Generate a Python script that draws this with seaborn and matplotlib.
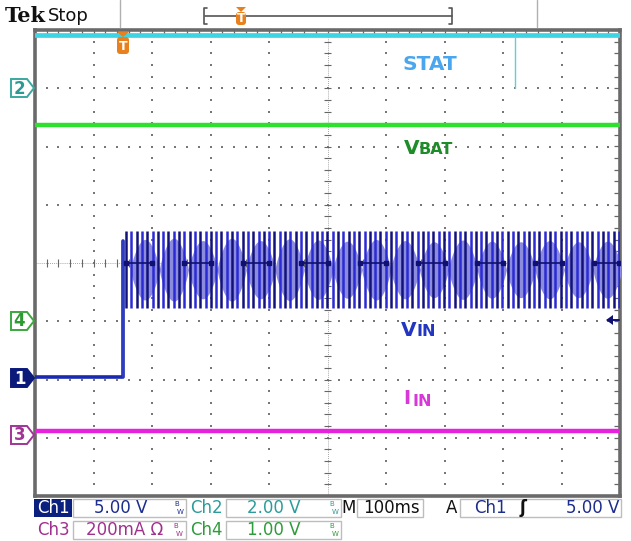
import numpy as np
import pandas as pd
import matplotlib
matplotlib.use("Agg")
import matplotlib.pyplot as plt
import seaborn as sns
from matplotlib.patches import Polygon, Rectangle, FancyBboxPatch

# ---------------- data (oscilloscope divisions: x 0..10, y -4..4) ----------------
stat_t = [0.0, 10.0]
stat_v = [3.91, 3.91]
stat_glitch_t = 8.2          # short drop of STAT
stat_glitch_v = 3.0

vbat_t = [0.0, 10.0]
vbat_v = [2.37, 2.37]

iin_t = [0.0, 10.0]
iin_v = [-2.88, -2.88]

vin_pre_t = [0.0, 1.50, 1.50]
vin_pre_v = [-1.96, -1.96, 0.38]

vin_first = 1.556            # first ripple spike
vin_period = 0.0906          # spike spacing (div)
vin_count = 94
vin_top = 0.55
vin_bot = -0.78

lens_first = 1.88            # beat (lighter band) centres
lens_period = 0.494
lens_h = [0.52, 0.54, 0.50, 0.54, 0.50, 0.53, 0.51, 0.49, 0.52,
          0.50, 0.48, 0.51, 0.49, 0.48, 0.50, 0.48, 0.49]
lens_mid = -0.115

# ---------------- figure ----------------
sns.set_style("white")
plt.rcParams["font.family"] = ["DejaVu Sans"]
fig = plt.figure(figsize=(6.31, 5.41), dpi=100)
fig.patch.set_facecolor("white")

L, R, T, B = 35, 620, 30, 496
W, H = 631, 541
ax = fig.add_axes([L / W, 1 - B / H, (R - L) / W, (B - T) / H])
ax.set_xlim(0, 10)
ax.set_ylim(-4, 4)
ax.set_facecolor("white")

# graticule dots
sub = np.arange(1, 40) * 0.2 - 4
subx = np.arange(1, 50) * 0.2
for gx in [1, 2, 3, 4, 6, 7, 8, 9]:
    ax.scatter(np.full(sub.size, gx), sub, s=1.6, c="#777777", marker="s", linewidths=0, zorder=1)
for gy in [-3, -2, -1, 1, 2, 3]:
    ax.scatter(subx, np.full(subx.size, gy), s=1.6, c="#777777", marker="s", linewidths=0, zorder=1)
# centre cross with ticks
ax.plot([5, 5], [-4, 4], color="#888888", lw=0.6, ls=(0, (1, 1.5)), zorder=1)
ax.plot([0, 10], [0, 0], color="#888888", lw=0.6, ls=(0, (1, 1.5)), zorder=1)
ax.hlines(sub, 4.94, 5.06, color="#666666", lw=0.8, zorder=1)
ax.vlines(subx, -0.07, 0.07, color="#666666", lw=0.8, zorder=1)

for s in ax.spines.values():
    s.set_color("#6a6a6a")
    s.set_linewidth(2.6)
ax.set_xticks(np.arange(0, 10.01, 0.2))
ax.set_yticks(np.arange(-4, 4.01, 0.2))
ax.tick_params(direction="in", length=4, width=0.9, color="#666666",
               top=True, right=True, labelbottom=False, labelleft=False)

# ---------------- traces ----------------
sns.lineplot(data=pd.DataFrame({"t": stat_t, "v": stat_v}), x="t", y="v", ax=ax,
             color="#3fd4e4", lw=3.4, estimator=None, sort=False, zorder=5)
ax.plot([stat_glitch_t, stat_glitch_t], [stat_v[0], stat_glitch_v], color="#5cd0e0", lw=1.0, zorder=5)

sns.lineplot(data=pd.DataFrame({"t": vbat_t, "v": vbat_v}), x="t", y="v", ax=ax,
             color="#2ee02e", lw=3.2, estimator=None, sort=False, zorder=5)

sns.lineplot(data=pd.DataFrame({"t": iin_t, "v": iin_v}), x="t", y="v", ax=ax,
             color="#e622de", lw=3.2, estimator=None, sort=False, zorder=5)

sns.lineplot(data=pd.DataFrame({"t": vin_pre_t, "v": vin_pre_v}), x="t", y="v", ax=ax,
             color="#1a2ab0", lw=2.6, estimator=None, sort=False, zorder=5)
ax.plot([vin_pre_t[-1], vin_pre_t[-1]], [vin_pre_v[0], vin_pre_v[-1]], color="#3040c8", lw=1.2, zorder=5)

# lighter beat lenses
for k, h in enumerate(lens_h):
    c = lens_first + k * lens_period
    xs = np.linspace(c - 0.25, c + 0.25, 30)
    env = h * np.cos(np.pi / 2 * (xs - c) / 0.25) ** 0.8
    ax.fill_between(xs, lens_mid - env, lens_mid + env, color="#8c8cde", lw=0, zorder=4)

spike_t = vin_first + vin_period * np.arange(vin_count)
spike_t = spike_t[spike_t < 9.99]
cols = ["#12127a" if i % 2 == 0 else "#2a2ad6" for i in range(spike_t.size)]
ax.vlines(spike_t, vin_bot, vin_top, colors=cols, lw=1.8, zorder=6)

# centre markers on the ripple
for k in range(2, 11):
    ax.plot([k - 0.45, min(k, 9.98)], [0, 0], color="#101070", lw=1.2, marker="s", ms=2.5, zorder=7)

# ---------------- overlay (pixel coordinates) ----------------
ov = fig.add_axes([0, 0, 1, 1], zorder=10)
ov.set_xlim(0, W)
ov.set_ylim(H, 0)
ov.axis("off")
ov.patch.set_alpha(0)

# header
ov.text(5, 16, "Tek", fontsize=15, fontweight="bold", family="DejaVu Serif", va="center", color="#111111")
ov.text(48, 16, "Stop", fontsize=13, va="center", color="#111111")
ov.plot([120, 120], [0, 27], color="#b0b0b0", lw=1)
ov.plot([537, 537], [0, 27], color="#b0b0b0", lw=1)
ov.plot([205, 452], [16, 16], color="#555555", lw=1.2)
ov.plot([207, 204, 204, 207], [8, 8, 24, 24], color="#555555", lw=1.2)
ov.plot([449, 452, 452, 449], [8, 8, 24, 24], color="#555555", lw=1.2)


def t_marker(x, ytop, w, h):
    ov.add_patch(Polygon([(x - w / 2, ytop), (x + w / 2, ytop), (x, ytop + 5)], closed=True,
                         fc="#e8801e", ec="none", zorder=11))
    ov.add_patch(FancyBboxPatch((x - w / 2, ytop + 5), w, h, boxstyle="round,pad=0,rounding_size=3",
                                fc="#e8801e", ec="none", zorder=11))
    ov.text(x, ytop + 5 + h / 2 + 0.5, "T", color="white", fontsize=9, fontweight="bold",
            ha="center", va="center", zorder=12)


t_marker(241, 7, 10, 13)
t_marker(123, 32, 12, 17)


def ch_marker(y, num, edge, face, tc):
    pts = [(11, y - 9), (27, y - 9), (34, y), (27, y + 9), (11, y + 9)]
    ov.add_patch(Polygon(pts, closed=True, fc=face, ec=edge, lw=1.4, zorder=11))
    ov.text(19.5, y + 0.5, num, ha="center", va="center", color=tc, fontsize=12,
            fontweight="bold", zorder=12)


ch_marker(88, "2", "#3aa8a0", "white", "#2a9a92")
ch_marker(321, "4", "#3aa83e", "white", "#2e9a34")
ch_marker(378, "1", "#0b1a7a", "#0b1a7a", "white")
ch_marker(435, "3", "#a03596", "white", "#a03596")

# trigger level arrow (right)
ov.plot([608, 619], [320, 320], color="#101070", lw=1.4, zorder=11)
ov.add_patch(Polygon([(606, 320), (613, 315), (613, 325)], closed=True, fc="#101070", ec="none", zorder=11))

# trace labels
ov.text(403, 65, "STAT", color="#4aa6ee", fontsize=14.5, fontweight="bold", va="center")
ov.text(404, 148, "V", color="#1e8c28", fontsize=14.5, fontweight="bold", va="center")
ov.text(419, 150, "BAT", color="#1e8c28", fontsize=11.5, fontweight="bold", va="center")
ov.text(401, 330, "V", color="#2236c0", fontsize=14.5, fontweight="bold", va="center")
ov.text(416, 332, "IN", color="#2236c0", fontsize=11.5, fontweight="bold", va="center")
ov.text(403, 399, "I", color="#d838d8", fontsize=14, fontweight="bold", va="center")
ov.text(413, 401, "IN", color="#d838d8", fontsize=11.5, fontweight="bold", va="center")

# status bar
navy, teal, purple, green = "#1d2d8d", "#2a9d9a", "#a0308e", "#2e9c3a"
box_ec = "#bdbdbd"
ov.add_patch(Rectangle((34, 499), 38, 18, fc="#0b1f7e", ec="none"))
ov.text(53, 508, "Ch1", color="white", fontsize=12, ha="center", va="center")
ov.add_patch(Rectangle((73, 499), 113, 18, fill=False, ec=box_ec, lw=1))
ov.text(121, 508, "5.00 V", color=navy, fontsize=12, ha="center", va="center")
ov.text(206, 508, "Ch2", color=teal, fontsize=12, ha="center", va="center")
ov.add_patch(Rectangle((226, 499), 115, 18, fill=False, ec=box_ec, lw=1))
ov.text(274, 508, "2.00 V", color=teal, fontsize=12, ha="center", va="center")
ov.text(349, 508, "M", color="#111111", fontsize=12, ha="center", va="center")
ov.add_patch(Rectangle((357, 499), 66, 18, fill=False, ec=box_ec, lw=1))
ov.text(391, 508, "100ms", color="#111111", fontsize=12, ha="center", va="center")
ov.text(452, 508, "A", color="#111111", fontsize=12, ha="center", va="center")
ov.add_patch(Rectangle((460, 499), 161, 18, fill=False, ec=box_ec, lw=1))
ov.text(490, 508, "Ch1", color=navy, fontsize=12, ha="center", va="center")
ov.text(523, 508, "ʃ", color="#111111", fontsize=12, fontweight="bold", ha="center", va="center")
ov.text(619, 508, "5.00 V", color=navy, fontsize=12, ha="right", va="center")

ov.text(53, 530, "Ch3", color=purple, fontsize=12, ha="center", va="center")
ov.add_patch(Rectangle((73, 521), 113, 18, fill=False, ec=box_ec, lw=1))
ov.text(125, 530, "200mA Ω", color=purple, fontsize=12, ha="center", va="center")
ov.text(206, 530, "Ch4", color=green, fontsize=12, ha="center", va="center")
ov.add_patch(Rectangle((226, 521), 115, 18, fill=False, ec=box_ec, lw=1))
ov.text(274, 530, "1.00 V", color=green, fontsize=12, ha="center", va="center")


def bw(x, y, c):
    ov.text(x - 1.5, y - 4, "B", color=c, fontsize=5, ha="center", va="center")
    ov.text(x + 2.5, y + 4, "W", color=c, fontsize=5, ha="center", va="center")


bw(178, 508, navy)
bw(333, 508, teal)
bw(177, 530, purple)
bw(333, 530, green)

fig.savefig("out.png", dpi=100)
